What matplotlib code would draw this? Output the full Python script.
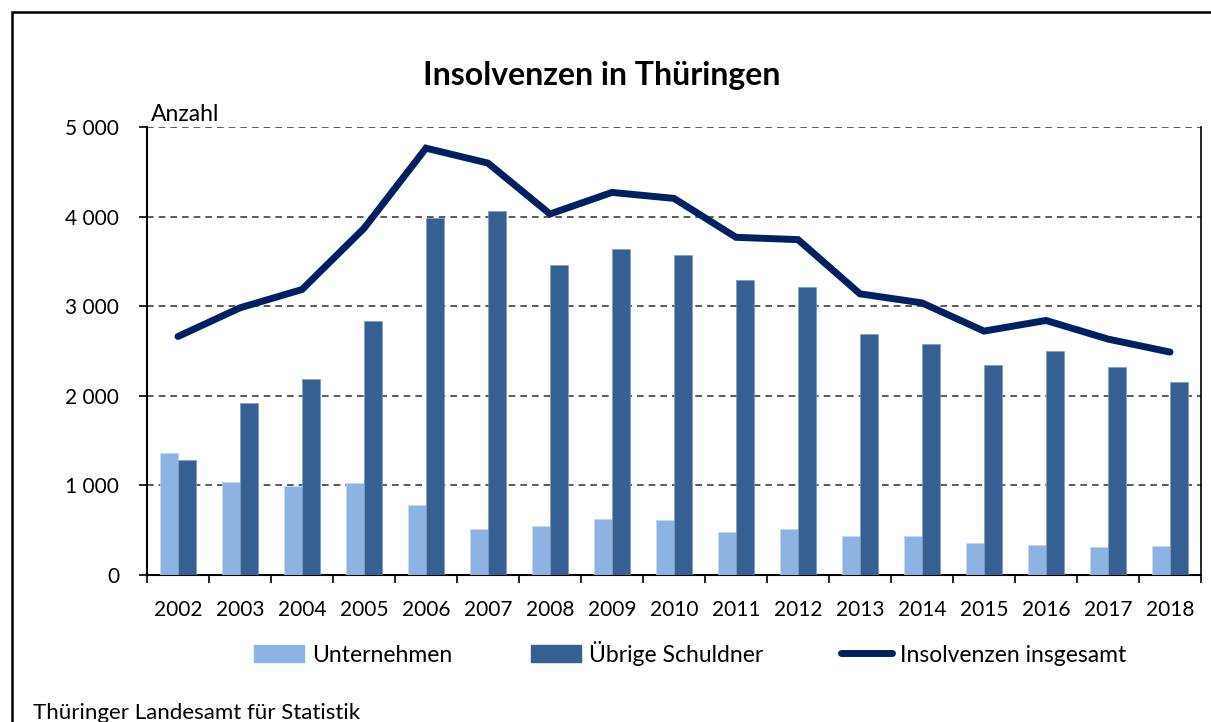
import matplotlib
matplotlib.use("Agg")
import matplotlib.pyplot as plt
from matplotlib.patches import Rectangle
from matplotlib.lines import Line2D
from matplotlib.ticker import FuncFormatter
import numpy as np

years = ["2002", "2003", "2004", "2005", "2006", "2007", "2008", "2009", "2010",
         "2011", "2012", "2013", "2014", "2015", "2016", "2017", "2018"]
unternehmen = [1363, 1036, 988, 1025, 776, 512, 542, 624, 613, 475, 516, 434, 434, 356, 334, 316, 323]
uebrige = [1289, 1923, 2187, 2837, 3981, 4059, 3457, 3639, 3572, 3290, 3216, 2692, 2581, 2347, 2503, 2317, 2154]
insgesamt = [2662, 2982, 3186, 3869, 4764, 4597, 4029, 4270, 4203, 3769, 3743, 3138, 3037, 2722, 2841, 2633, 2488]
yticks = [0, 1000, 2000, 3000, 4000, 5000]

plt.rcParams['font.family'] = ['Lato', 'DejaVu Sans']

c_light = "#8DB3E2"
c_dark = "#366092"
c_line = "#002060"

fig = plt.figure(figsize=(12.11, 7.22), dpi=100)
W, H = 1211, 722
ax = fig.add_axes([147 / W, 1 - 575 / H, (1201 - 147) / W, (575 - 127) / H])

x = np.arange(len(years))
bw = 0.285
ax.bar(x - bw / 2, unternehmen, width=bw, color=c_light, edgecolor="#c5d7ee", linewidth=0.5, zorder=3)
ax.bar(x + bw / 2, uebrige, width=bw, color=c_dark, edgecolor="#7f9cc0", linewidth=0.5, zorder=3)
ax.plot(x, insgesamt, color=c_line, linewidth=5, solid_capstyle="round", solid_joinstyle="miter", zorder=4)

ax.set_xlim(-0.5, len(years) - 0.5)
ax.set_ylim(0, 5000)
ax.set_yticks(yticks)
ax.yaxis.set_major_formatter(FuncFormatter(lambda v, p: f"{int(v):,}".replace(",", " ")))
ax.set_xticks(np.arange(-0.5, len(years) + 0.5, 1))
ax.set_xticklabels([])
ax.set_xticks(x, minor=True)
ax.set_xticklabels(years, minor=True)
ax.tick_params(axis="x", which="major", direction="out", length=6, width=1.2, color="black")
ax.tick_params(axis="x", which="minor", length=0, labelsize=15, pad=18)
ax.tick_params(axis="y", direction="out", length=6, width=1.2, labelsize=15, pad=14)

for v in yticks[1:]:
    ax.axhline(v, color="#404040", linestyle=(0, (4, 3)), linewidth=1.2, zorder=1)

ax.spines["top"].set_visible(False)
ax.spines["left"].set_linewidth(1.5)
ax.spines["bottom"].set_linewidth(1.5)
ax.spines["right"].set_linewidth(1.2)

ax.text(0.004, 1.004, "Anzahl", transform=ax.transAxes, ha="left", va="bottom", fontsize=16.5)

fig.text(602 / W, 1 - 75 / H, "Insolvenzen in Thüringen", ha="center", va="center",
         fontsize=23, fontweight="bold")

handles = [Rectangle((0, 0), 1, 1, color=c_light),
           Rectangle((0, 0), 1, 1, color=c_dark),
           Line2D([0], [0], color=c_line, linewidth=5, solid_capstyle="round")]
labels = ["Unternehmen", "Übrige Schuldner", "Insolvenzen insgesamt"]
leg = fig.legend(handles, labels, loc="center", bbox_to_anchor=(690 / W, 1 - 653 / H), ncol=3,
                 frameon=False, fontsize=16.5, handlelength=2.2, handleheight=0.7,
                 handletextpad=0.35, columnspacing=3.4)

fig.text(33 / W, 1 - 713 / H, "Thüringer Landesamt für Statistik", ha="left", va="center", fontsize=16)

frame = Rectangle((12 / W, -0.1), 1.2, 1 - 12 / H + 0.1, transform=fig.transFigure,
                  fill=False, edgecolor="black", linewidth=1.8)
fig.patches.append(frame)

fig.savefig("out.png", dpi=100)
